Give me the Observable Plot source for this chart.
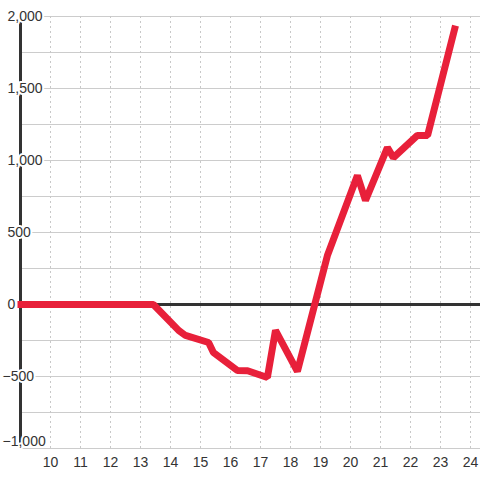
<!DOCTYPE html>
<html>
<head>
<meta charset="utf-8">
<script src="https://cdn.jsdelivr.net/npm/d3@7"></script>
<script src="https://cdn.jsdelivr.net/npm/@observablehq/plot@0.6"></script>
<style>
  html, body { margin: 0; padding: 0; background: #fff; }
  svg { display: block; }
</style>
</head>
<body>
<div id="chart"></div>
<script>
const xs = [8.9, 13.43, 14.27, 14.5, 15.27, 15.43, 16.23, 16.57, 17.23, 17.5, 18.23, 19.23, 20.23, 20.5, 21.23, 21.43, 22.23, 22.57, 23.5];
const ys = [0, 0, -180, -215, -264, -333, -458, -460, -507, -180, -465, 340, 896, 722, 1090, 1020, 1174, 1174, 1937];
const xTicks = [10, 11, 12, 13, 14, 15, 16, 17, 18, 19, 20, 21, 22, 23, 24];
const yGrid = [-1000, -750, -500, -250, 0, 250, 500, 750, 1000, 1250, 1500, 1750, 2000];
const yLabelsPos = [0, 500, 1000, 1500, 2000];
const yLabelsNeg = [-500];
const yBottomLabel = [-1000];

const data = xs.map((x, i) => ({x, y: ys[i]}));
const fmt = d3.format(",");
const X0 = 9, X1 = 24.3333;
const labelStyle = {fill: "#333", stroke: "#fff", strokeWidth: 4, paintOrder: "stroke", fontSize: 14, textAnchor: "start"};

const chart = Plot.plot({
  width: 480,
  height: 480,
  marginLeft: 20,
  marginRight: 0,
  marginTop: 16,
  marginBottom: 32,
  x: {domain: [X0, X1], axis: null},
  y: {domain: [-1000, 2000], axis: null},
  style: {background: "#fff", fontFamily: "'Liberation Sans', Arial, sans-serif"},
  marks: [
    Plot.ruleY(yGrid, {y: d => d, x1: X0, x2: X1, stroke: "#cccccc", strokeWidth: 1.2}),
    Plot.ruleX(xTicks, {x: d => d, y1: -1000, y2: 2000, stroke: "#c8c8c8", strokeWidth: 1, strokeDasharray: "2,3"}),
    Plot.ruleX([X0], {x: d => d, y1: -1000, y2: 2000, stroke: "#333", strokeWidth: 3}),
    Plot.ruleY([0], {y: d => d, x1: X0, x2: X1, stroke: "#333", strokeWidth: 3}),
    Plot.line(data, {x: "x", y: "y", stroke: "#e8203a", strokeWidth: 7, strokeLinejoin: "miter", strokeLinecap: "butt"}),
    Plot.text(yLabelsPos, {x: X0, y: d => d, text: d => fmt(d), dx: -13, ...labelStyle}),
    Plot.text(yLabelsNeg, {x: X0, y: d => d, text: d => fmt(d), dx: -18, ...labelStyle}),
    Plot.text(yBottomLabel, {x: X0, y: d => d, text: d => fmt(d), dx: -18, dy: -7, ...labelStyle}),
    Plot.text(xTicks, {x: d => d, y: -1000, text: d => String(d), dy: 14, textAnchor: "middle", fill: "#333", fontSize: 14})
  ]
});
document.getElementById("chart").appendChild(chart);
</script>
</body>
</html>
